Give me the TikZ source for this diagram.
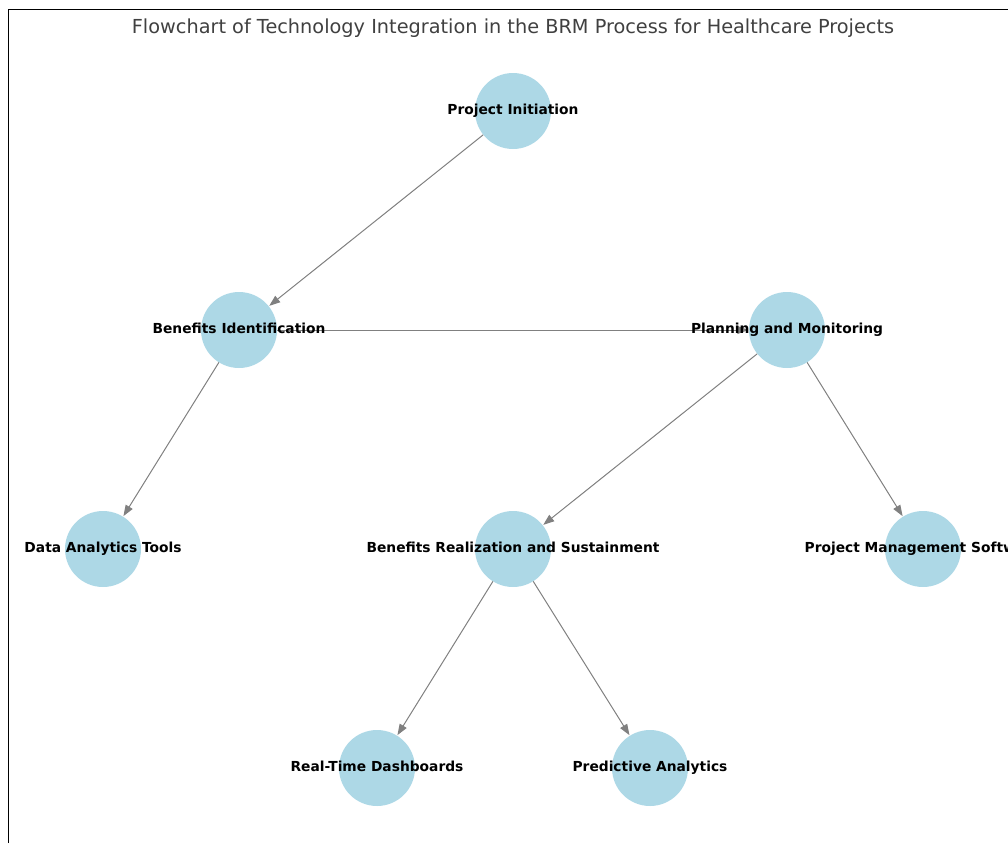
\documentclass[tikz,border=0pt]{standalone}
\usepackage{fontspec}
\setmainfont{DejaVu Sans}
\usetikzlibrary{arrows.meta}
\definecolor{lightblue}{HTML}{ADD8E6}

\tikzset{
  ball/.style={circle, fill=lightblue, minimum size=76pt, inner sep=0pt},
  lbl/.style={font=\bfseries\fontsize{13.8}{16}\selectfont, inner sep=0pt, text height=10pt, text depth=2.9pt},
  edge/.style={draw=gray, line width=1pt, -{Triangle[length=11pt,width=8pt]}, shorten >=0.5pt}
}

\begin{document}
\begin{tikzpicture}
      [x=1pt, y=-1pt]
      \useasboundingbox (0,0) rectangle (1008,843);
      \clip (0,0) rectangle (1008,843);
      \draw[line width=1pt] (8,843) -- (8,10) -- (1008,10);
      \node(0) at (513,28) {\fontsize{19.3}{22}\selectfont\color{black!75}Flowchart of Technology Integration in the BRM Process for Healthcare Projects};

      \node[ball](1) at (513,111) {};
      \node[ball](2) at (239,330) {};
      \node[ball](3) at (787,330) {};
      \node[ball](4) at (103,549) {};
      \node[ball](5) at (513,549) {};
      \node[ball](6) at (923,549) {};
      \node[ball](7) at (377,768) {};
      \node[ball](8) at (650,768) {};

      \draw[edge](1) -- (2);
      \draw[edge](2) -- (3);
      \draw[edge](2) -- (4);
      \draw[edge](3) -- (5);
      \draw[edge](3) -- (6);
      \draw[edge](5) -- (7);
      \draw[edge](5) -- (8);

      \node[lbl](1t) at (1) {Project Initiation};
      \node[lbl](2t) at (2) {Benefits Identification};
      \node[lbl](3t) at (3) {Planning and Monitoring};
      \node[lbl](4t) at (4) {Data Analytics Tools};
      \node[lbl](5t) at (5) {Benefits Realization and Sustainment};
      \node[lbl](6t) at (6) {Project Management Software};
      \node[lbl](7t) at (7) {Real-Time Dashboards};
      \node[lbl](8t) at (8) {Predictive Analytics};
  \end{tikzpicture}
\end{document}
